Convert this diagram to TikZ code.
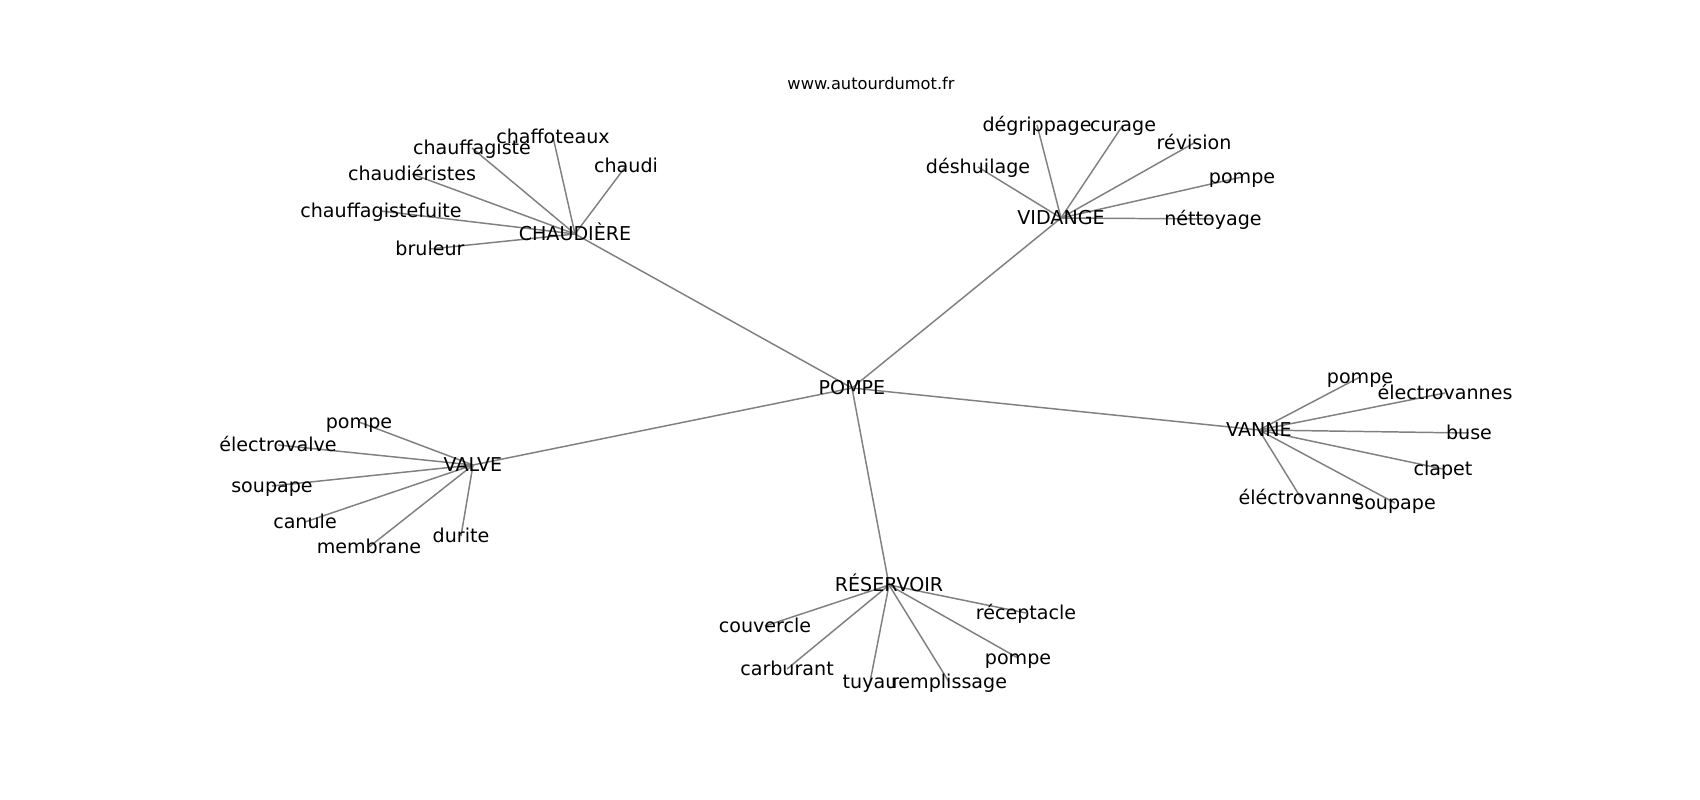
\documentclass[tikz,border=0pt]{standalone}
\usepackage{fontspec}
\setmainfont{DejaVu Sans}
\usepackage{tikz}
\usetikzlibrary{backgrounds}

\tikzset{
  word/.style={inner sep=0pt, text height=0.75em, text depth=0.38em,
    font=\fontsize{5.43}{6.5}\selectfont},
  link/.style={draw=gray, line width=0.42pt}
}

\begin{document}
\begin{tikzpicture}[x=0.01cm,y=-0.01cm]
    \useasboundingbox (0,0) rectangle (1700,800);
    \node[word,font=\fontsize{4.62}{5.5}\selectfont] (site) at (871,83) {www.autourdumot.fr};
    \node[word] (pompe) at (852,388) {POMPE};
    \node[word] (chaud) at (575,234) {CHAUDIÈRE};
    \node[word] (vid) at (1061,218) {VIDANGE};
    \node[word] (valve) at (473,465) {VALVE};
    \node[word] (vanne) at (1259,430) {VANNE};
    \node[word] (res) at (889,585) {RÉSERVOIR};

    \node[word] (chaffoteaux) at (553,137) {chaffoteaux};
    \node[word] (chauffagiste) at (472,148) {chauffagiste};
    \node[word] (chaudieristes) at (412,174) {chaudiéristes};
    \node[word] (chaudi) at (626,166) {chaudi};
    \node[word] (fuite) at (381,211) {chauffagistefuite};
    \node[word] (bruleur) at (430,249) {bruleur};

    \node[word] (degrippage) at (1037,125) {dégrippage};
    \node[word] (curage) at (1123,125) {curage};
    \node[word] (revision) at (1194,143) {révision};
    \node[word] (deshuilage) at (978,167) {déshuilage};
    \node[word] (vidpompe) at (1242,177) {pompe};
    \node[word] (nettoyage) at (1213,219) {néttoyage};

    \node[word] (valvepompe) at (359,422) {pompe};
    \node[word] (electrovalve) at (278,445) {électrovalve};
    \node[word] (valvesoupape) at (272,486) {soupape};
    \node[word] (canule) at (305,522) {canule};
    \node[word] (membrane) at (369,547) {membrane};
    \node[word] (durite) at (461,536) {durite};

    \node[word] (vannepompe) at (1360,377) {pompe};
    \node[word] (electrovannes) at (1445,393) {électrovannes};
    \node[word] (buse) at (1469,433) {buse};
    \node[word] (clapet) at (1443,469) {clapet};
    \node[word] (electrovanne) at (1301,498) {éléctrovanne};
    \node[word] (vannesoupape) at (1395,503) {soupape};

    \node[word] (receptacle) at (1026,613) {réceptacle};
    \node[word] (couvercle) at (765,626) {couvercle};
    \node[word] (carburant) at (787,669) {carburant};
    \node[word] (tuyau) at (870,682) {tuyau};
    \node[word] (remplissage) at (949,682) {remplissage};
    \node[word] (respompe) at (1018,658) {pompe};

    \begin{scope}[on background layer]
      \foreach \b in {chaud,vid,valve,vanne,res}
        \draw[link] (pompe.center) -- (\b.center);
      \foreach \b in {chaffoteaux,chauffagiste,chaudieristes,chaudi,fuite,bruleur}
        \draw[link] (chaud.center) -- (\b.center);
      \foreach \b in {degrippage,curage,revision,deshuilage,vidpompe,nettoyage}
        \draw[link] (vid.center) -- (\b.center);
      \foreach \b in {valvepompe,electrovalve,valvesoupape,canule,membrane,durite}
        \draw[link] (valve.center) -- (\b.center);
      \foreach \b in {vannepompe,electrovannes,buse,clapet,electrovanne,vannesoupape}
        \draw[link] (vanne.center) -- (\b.center);
      \foreach \b in {receptacle,couvercle,carburant,tuyau,remplissage,respompe}
        \draw[link] (res.center) -- (\b.center);
    \end{scope}
\end{tikzpicture}
\end{document}
